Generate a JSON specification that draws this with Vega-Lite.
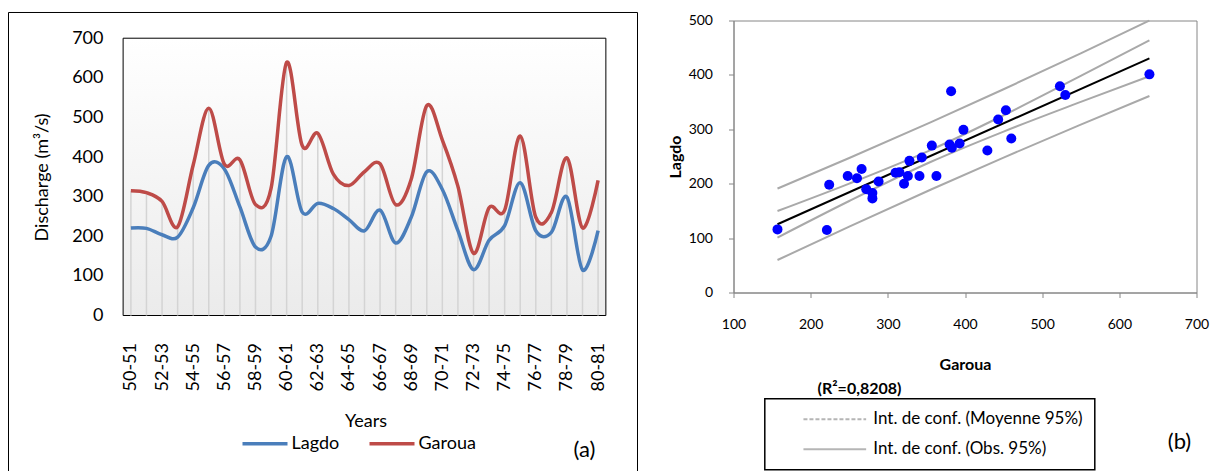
{
  "$schema": "https://vega.github.io/schema/vega-lite/v6.json",
  "background": "white",
  "padding": {"left": 7.5, "top": 11.5, "right": 0, "bottom": 0},
  "spacing": 96,
  "bounds": "flush",
  "resolve": {
    "scale": {"color": "independent", "opacity": "independent"},
    "legend": {"color": "independent", "opacity": "independent"}
  },
  "config": {
    "font": "Lato",
    "view": {"stroke": null},
    "axis": {"labelFont": "Lato", "titleFont": "Lato", "labelColor": "black", "titleColor": "black", "grid": false},
    "legend": {"labelFont": "Lato", "labelColor": "black"}
  },
  "datasets": {
    "flows": [
      {"season": "50-51", "start": 1950, "Garoua": 315, "Lagdo": 221},
      {"season": "51-52", "start": 1951, "Garoua": 310, "Lagdo": 220},
      {"season": "52-53", "start": 1952, "Garoua": 288, "Lagdo": 204},
      {"season": "53-54", "start": 1953, "Garoua": 224, "Lagdo": 198},
      {"season": "54-55", "start": 1954, "Garoua": 380, "Lagdo": 272},
      {"season": "55-56", "start": 1955, "Garoua": 523, "Lagdo": 379},
      {"season": "56-57", "start": 1956, "Garoua": 382, "Lagdo": 370},
      {"season": "57-58", "start": 1957, "Garoua": 393, "Lagdo": 274},
      {"season": "58-59", "start": 1958, "Garoua": 280, "Lagdo": 173},
      {"season": "59-60", "start": 1959, "Garoua": 321, "Lagdo": 200},
      {"season": "60-61", "start": 1960, "Garoua": 639, "Lagdo": 401},
      {"season": "61-62", "start": 1961, "Garoua": 429, "Lagdo": 261},
      {"season": "62-63", "start": 1962, "Garoua": 460, "Lagdo": 283},
      {"season": "63-64", "start": 1963, "Garoua": 357, "Lagdo": 270},
      {"season": "64-65", "start": 1964, "Garoua": 328, "Lagdo": 242},
      {"season": "65-66", "start": 1965, "Garoua": 363, "Lagdo": 214},
      {"season": "66-67", "start": 1966, "Garoua": 383, "Lagdo": 266},
      {"season": "67-68", "start": 1967, "Garoua": 280, "Lagdo": 183},
      {"season": "68-69", "start": 1968, "Garoua": 344, "Lagdo": 248},
      {"season": "69-70", "start": 1969, "Garoua": 530, "Lagdo": 363},
      {"season": "70-71", "start": 1970, "Garoua": 443, "Lagdo": 318},
      {"season": "71-72", "start": 1971, "Garoua": 326, "Lagdo": 214},
      {"season": "72-73", "start": 1972, "Garoua": 157, "Lagdo": 116},
      {"season": "73-74", "start": 1973, "Garoua": 272, "Lagdo": 190},
      {"season": "74-75", "start": 1974, "Garoua": 266, "Lagdo": 227},
      {"season": "75-76", "start": 1975, "Garoua": 453, "Lagdo": 335},
      {"season": "76-77", "start": 1976, "Garoua": 248, "Lagdo": 214},
      {"season": "77-78", "start": 1977, "Garoua": 260, "Lagdo": 210},
      {"season": "78-79", "start": 1978, "Garoua": 398, "Lagdo": 299},
      {"season": "79-80", "start": 1979, "Garoua": 221, "Lagdo": 115},
      {"season": "80-81", "start": 1980, "Garoua": 341, "Lagdo": 214}
    ],
    "ci": [
      {"band": "Int. de conf. (Moyenne 95%)", "line": "moy_hi", "Garoua": 157, "Lagdo": 149.8},
      {"band": "Int. de conf. (Moyenne 95%)", "line": "moy_hi", "Garoua": 250, "Lagdo": 200.2},
      {"band": "Int. de conf. (Moyenne 95%)", "line": "moy_hi", "Garoua": 356, "Lagdo": 262.3},
      {"band": "Int. de conf. (Moyenne 95%)", "line": "moy_hi", "Garoua": 450, "Lagdo": 325.8},
      {"band": "Int. de conf. (Moyenne 95%)", "line": "moy_hi", "Garoua": 550, "Lagdo": 398.1},
      {"band": "Int. de conf. (Moyenne 95%)", "line": "moy_hi", "Garoua": 639, "Lagdo": 463.4},
      {"band": "Int. de conf. (Moyenne 95%)", "line": "moy_lo", "Garoua": 157, "Lagdo": 101.0},
      {"band": "Int. de conf. (Moyenne 95%)", "line": "moy_lo", "Garoua": 250, "Lagdo": 168.2},
      {"band": "Int. de conf. (Moyenne 95%)", "line": "moy_lo", "Garoua": 356, "Lagdo": 240.3},
      {"band": "Int. de conf. (Moyenne 95%)", "line": "moy_lo", "Garoua": 450, "Lagdo": 295.8},
      {"band": "Int. de conf. (Moyenne 95%)", "line": "moy_lo", "Garoua": 550, "Lagdo": 350.3},
      {"band": "Int. de conf. (Moyenne 95%)", "line": "moy_lo", "Garoua": 639, "Lagdo": 397.6},
      {"band": "Int. de conf. (Obs. 95%)", "line": "obs_hi", "Garoua": 157, "Lagdo": 191.1},
      {"band": "Int. de conf. (Obs. 95%)", "line": "obs_hi", "Garoua": 250, "Lagdo": 247.3},
      {"band": "Int. de conf. (Obs. 95%)", "line": "obs_hi", "Garoua": 356, "Lagdo": 313.3},
      {"band": "Int. de conf. (Obs. 95%)", "line": "obs_hi", "Garoua": 450, "Lagdo": 373.6},
      {"band": "Int. de conf. (Obs. 95%)", "line": "obs_hi", "Garoua": 550, "Lagdo": 439.7},
      {"band": "Int. de conf. (Obs. 95%)", "line": "obs_hi", "Garoua": 639, "Lagdo": 499.8},
      {"band": "Int. de conf. (Obs. 95%)", "line": "obs_lo", "Garoua": 157, "Lagdo": 59.7},
      {"band": "Int. de conf. (Obs. 95%)", "line": "obs_lo", "Garoua": 250, "Lagdo": 121.1},
      {"band": "Int. de conf. (Obs. 95%)", "line": "obs_lo", "Garoua": 356, "Lagdo": 189.3},
      {"band": "Int. de conf. (Obs. 95%)", "line": "obs_lo", "Garoua": 450, "Lagdo": 248.0},
      {"band": "Int. de conf. (Obs. 95%)", "line": "obs_lo", "Garoua": 550, "Lagdo": 308.7},
      {"band": "Int. de conf. (Obs. 95%)", "line": "obs_lo", "Garoua": 639, "Lagdo": 361.2}
    ],
    "fit": [
      {"Garoua": 157, "Lagdo": 125.4},
      {"Garoua": 639, "Lagdo": 430.5}
    ],
    "one": [{"k": 1}]
  },
  "hconcat": [
    {
      "width": 629,
      "height": 451,
      "view": {"stroke": null},
      "layer": [
        {
          "data": {"name": "one"},
          "mark": {
            "type": "rect",
            "fill": {"gradient": "linear", "x1": 0, "y1": 0, "x2": 0, "y2": 1,
              "stops": [{"offset": 0, "color": "#ffffff"}, {"offset": 1, "color": "#ebebeb"}]},
            "stroke": "black",
            "strokeWidth": 1
          },
          "encoding": {
            "x": {"datum": 1949.5, "type": "quantitative",
              "scale": {"domain": [1942.14, 1982.531], "nice": false, "zero": false},
              "axis": {
                "values": [1950, 1952, 1954, 1956, 1958, 1960, 1962, 1964, 1966, 1968, 1970, 1972, 1974, 1976, 1978, 1980],
                "labelExpr": "substring(toString(datum.value), 2) + '-' + substring(toString(datum.value + 1), 2)",
                "labelAngle": 270, "offset": -156, "domain": false, "ticks": false,
                "labelPadding": 27, "labelFontSize": 18, "labelOverlap": false, "labelFlush": false,
                "title": "Years", "titleFontSize": 18, "titleFontWeight": "normal", "titlePadding": 22, "titleX": 357
              }
            },
            "x2": {"datum": 1980.5},
            "y": {"datum": 0, "type": "quantitative",
              "scale": {"domain": [-393.8, 744.7], "nice": false, "zero": false},
              "axis": {
                "values": [0, 100, 200, 300, 400, 500, 600, 700],
                "offset": -114.5, "domain": false, "ticks": false,
                "labelPadding": 20, "labelFontSize": 18, "labelOverlap": false, "labelFlush": false,
                "title": "Discharge (m³/s)", "titleFontSize": 18, "titleFontWeight": "normal", "titlePadding": 20, "titleY": 156.4
              }
            },
            "y2": {"datum": 700}
          }
        },
        {
          "data": {"name": "flows"},
          "mark": {"type": "rule", "color": "#d4d4d4", "strokeWidth": 1.5},
          "encoding": {
            "x": {"field": "start", "type": "quantitative", "scale": {"domain": [1942.14, 1982.531], "nice": false, "zero": false}},
            "y": {"field": "Garoua", "type": "quantitative", "scale": {"domain": [-393.8, 744.7], "nice": false, "zero": false}},
            "y2": {"datum": 0}
          }
        },
        {
          "data": {"name": "flows"},
          "transform": [{"fold": ["Lagdo", "Garoua"], "as": ["series", "value"]}],
          "mark": {"type": "line", "interpolate": "cardinal", "strokeWidth": 3.5},
          "encoding": {
            "x": {"field": "start", "type": "quantitative", "scale": {"domain": [1942.14, 1982.531], "nice": false, "zero": false}},
            "y": {"field": "value", "type": "quantitative", "scale": {"domain": [-393.8, 744.7], "nice": false, "zero": false}},
            "color": {"field": "series", "type": "nominal",
              "scale": {"domain": ["Lagdo", "Garoua"], "range": ["#4A7EBB", "#BE4B48"]},
              "legend": {"orient": "none", "legendX": 232, "legendY": 414.3, "direction": "horizontal", "title": null,
                "symbolType": "stroke", "symbolSize": 2025, "symbolStrokeWidth": 3.5, "labelFontSize": 18,
                "clipHeight": 18,
                "labelOffset": 2, "columnPadding": 28, "padding": 0}
            }
          }
        },
        {
          "data": {"name": "one"},
          "mark": {"type": "rule", "color": "black", "strokeWidth": 1},
          "encoding": {
            "x": {"datum": 1942.14, "type": "quantitative", "scale": {"domain": [1942.14, 1982.531], "nice": false, "zero": false}},
            "y": {"datum": -393.8, "type": "quantitative", "scale": {"domain": [-393.8, 744.7], "nice": false, "zero": false}},
            "y2": {"datum": 764.9}
          }
        },
        {
          "data": {"name": "one"},
          "mark": {"type": "rule", "color": "black", "strokeWidth": 1},
          "encoding": {
            "x": {"datum": 1982.531, "type": "quantitative", "scale": {"domain": [1942.14, 1982.531], "nice": false, "zero": false}},
            "y": {"datum": -393.8, "type": "quantitative", "scale": {"domain": [-393.8, 744.7], "nice": false, "zero": false}},
            "y2": {"datum": 764.9}
          }
        },
        {
          "data": {"name": "one"},
          "mark": {"type": "rule", "color": "black", "strokeWidth": 1},
          "encoding": {
            "x": {"datum": 1942.14, "type": "quantitative", "scale": {"domain": [1942.14, 1982.531], "nice": false, "zero": false}},
            "x2": {"datum": 1982.531},
            "y": {"datum": 764.9, "type": "quantitative", "scale": {"domain": [-393.8, 744.7], "nice": false, "zero": false}}
          }
        },
        {
          "data": {"name": "one"},
          "mark": {"type": "text", "text": "(a)", "fontSize": 22, "align": "center", "baseline": "middle", "color": "black"},
          "encoding": {
            "x": {"datum": 1979.13, "type": "quantitative", "scale": {"domain": [1942.14, 1982.531], "nice": false, "zero": false}},
            "y": {"datum": -338.3, "type": "quantitative", "scale": {"domain": [-393.8, 744.7], "nice": false, "zero": false}}
          }
        }
      ]
    },
    {
      "width": 463,
      "height": 272,
      "view": {"stroke": "#868686", "strokeWidth": 1},
      "layer": [
        {
          "data": {"name": "ci"},
          "mark": {"type": "line", "color": "#a9a9a9", "strokeWidth": 2, "interpolate": "monotone"},
          "encoding": {
            "x": {"field": "Garoua", "type": "quantitative",
              "scale": {"domain": [100, 700], "nice": false, "zero": false},
              "axis": {
                "values": [100, 200, 300, 400, 500, 600, 700],
                "tickSize": 5, "tickColor": "#868686", "domainColor": "#868686",
                "labelFontSize": 14, "labelPadding": 20, "labelFlush": false, "labelOverlap": false,
                "title": "Garoua", "titleFontSize": 16, "titleFontWeight": "bold", "titlePadding": 25
              }
            },
            "y": {"field": "Lagdo", "type": "quantitative",
              "scale": {"domain": [0, 500], "nice": false, "zero": false},
              "axis": {
                "values": [0, 50, 100, 150, 200, 250, 300, 350, 400, 450, 500],
                "tickSize": 5, "tickColor": "#868686", "domainColor": "#868686",
                "labelFontSize": 14, "labelPadding": 16, "labelFlush": false, "labelOverlap": false,
                "title": "Lagdo", "titleFontSize": 16, "titleFontWeight": "bold", "titlePadding": 5
              }
            },
            "detail": {"field": "line", "type": "nominal"},
            "opacity": {"field": "band", "type": "ordinal",
              "scale": {"domain": ["Int. de conf. (Moyenne 95%)", "Int. de conf. (Obs. 95%)"], "range": [1, 1]},
              "legend": {
                "orient": "none", "legendX": 31.3, "legendY": 378.3, "title": null, "direction": "vertical",
                "strokeColor": "black", "fillColor": "white", "padding": 12,
                "symbolType": "stroke", "symbolSize": 3931, "symbolStrokeWidth": 2, "symbolOffset": 25.5,
                "symbolStrokeColor": "#b5b5b5", "clipHeight": 17,
                "labelOffset": 6, "labelFontSize": 17, "labelLimit": 400, "rowPadding": 12,
                "labelExpr": "datum.label + '          '",
                "encoding": {
                  "symbols": {"strokeDash": {"condition": {"test": "datum.value === 'Int. de conf. (Moyenne 95%)'", "value": [4, 2]}, "value": [1, 0]}},
                  "legend": {"strokeWidth": {"value": 1.5}}
                }
              }
            }
          }
        },
        {
          "data": {"name": "fit"},
          "mark": {"type": "line", "color": "black", "strokeWidth": 2},
          "encoding": {
            "x": {"field": "Garoua", "type": "quantitative", "scale": {"domain": [100, 700], "nice": false, "zero": false}},
            "y": {"field": "Lagdo", "type": "quantitative", "scale": {"domain": [0, 500], "nice": false, "zero": false}}
          }
        },
        {
          "data": {"name": "flows"},
          "mark": {"type": "circle", "size": 100, "color": "#0000ff", "opacity": 1},
          "encoding": {
            "x": {"field": "Garoua", "type": "quantitative", "scale": {"domain": [100, 700], "nice": false, "zero": false}},
            "y": {"field": "Lagdo", "type": "quantitative", "scale": {"domain": [0, 500], "nice": false, "zero": false}}
          }
        },
        {
          "data": {"name": "one"},
          "mark": {"type": "text", "text": "(R²=0,8208)", "fontSize": 16, "fontWeight": "bold", "align": "center", "baseline": "middle", "color": "black"},
          "encoding": {
            "x": {"datum": 263.3, "type": "quantitative", "scale": {"domain": [100, 700], "nice": false, "zero": false}},
            "y": {"datum": -176.5, "type": "quantitative", "scale": {"domain": [0, 500], "nice": false, "zero": false}}
          }
        },
        {
          "data": {"name": "one"},
          "mark": {"type": "text", "text": "(b)", "fontSize": 22, "align": "center", "baseline": "middle", "color": "black"},
          "encoding": {
            "x": {"datum": 678, "type": "quantitative", "scale": {"domain": [100, 700], "nice": false, "zero": false}},
            "y": {"datum": -275, "type": "quantitative", "scale": {"domain": [0, 500], "nice": false, "zero": false}}
          }
        }
      ]
    }
  ]
}
